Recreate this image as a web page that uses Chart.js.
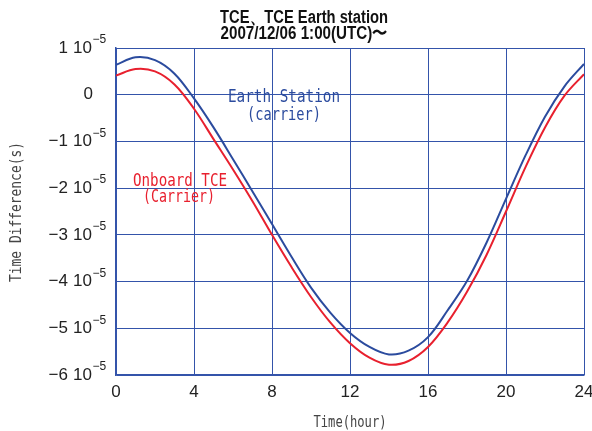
<!DOCTYPE html>
<html>
<head>
<meta charset="utf-8">
<script src="https://cdn.jsdelivr.net/npm/chart.js@4/dist/chart.umd.min.js"></script>
<style>
  html, body { margin: 0; padding: 0; background: #fff; }
  #wrap { width: 592px; height: 431px; }
</style>
</head>
<body>
<div id="wrap"><canvas id="myChart" width="592" height="431"></canvas></div>
<script>
'use strict';
// values are in units of 1e-5 s
let hours = [0, 1, 2, 3, 4, 5, 6, 7, 8, 9, 10, 11, 12, 13, 14, 15, 16, 17, 18, 19, 20, 21, 22, 23, 24];
let earthStation = [0.64, 0.80, 0.74, 0.45, -0.08, -0.70, -1.38, -2.07, -2.77, -3.47, -4.13, -4.67, -5.10, -5.40, -5.56, -5.48, -5.19, -4.62, -3.99, -3.17, -2.23, -1.30, -0.47, 0.18, 0.66];
let onboardTCE = [0.41, 0.55, 0.50, 0.22, -0.30, -0.95, -1.60, -2.28, -3.00, -3.69, -4.33, -4.88, -5.32, -5.63, -5.78, -5.70, -5.40, -4.88, -4.22, -3.43, -2.50, -1.55, -0.70, -0.02, 0.44];
let xTicks = [0, 4, 8, 12, 16, 20, 24];
let yTicks = [1, 0, -1, -2, -3, -4, -5, -6];
let exponent = '\u22125';

let gridColor = '#3454aa';
let blueColor = '#2b4b9e';
let redColor = '#e8202e';
let narrow = '"Liberation Sans Narrow", "Liberation Sans", sans-serif';
let mono = '"DejaVu Sans Mono", "Liberation Mono", monospace';

function toPoints(vals){
  let pts = [];
  for(let i = 0; i < hours.length; i++){
    pts.push({x: hours[i], y: vals[i]});
  }
  return pts;
}

// draw text squeezed/stretched to a given width
function drawFit(ctx, text, cx, cy, width, font, color){
  ctx.save();
  ctx.font = font;
  ctx.fillStyle = color;
  ctx.textAlign = 'center';
  ctx.textBaseline = 'middle';
  let w = ctx.measureText(text).width;
  ctx.translate(cx, cy);
  ctx.scale(width / w, 1);
  ctx.fillText(text, 0, 0);
  ctx.restore();
}

let textPlugin = {
  id: 'textPlugin',
  afterDraw(chart){
    let ctx = chart.ctx;
    let yScale = chart.scales.y;

    drawFit(ctx, 'TCE\u3001TCE Earth station', 304, 18, 168, 'bold 18px ' + narrow, '#111');
    drawFit(ctx, '2007/12/06 1:00(UTC)\u301c', 304, 34, 167, 'bold 18px ' + narrow, '#111');

    // y tick labels with superscript exponent
    ctx.save();
    ctx.fillStyle = '#222';
    ctx.textBaseline = 'middle';
    for(let i = 0; i < yTicks.length; i++){
      let v = yTicks[i];
      let y = yScale.getPixelForValue(v);
      ctx.font = '17px ' + narrow;
      ctx.textAlign = 'right';
      if(v === 0){
        ctx.fillText('0', 93, y);
        continue;
      }
      let mant = v < 0 ? '\u2212' + Math.abs(v) : String(v);
      ctx.fillText(mant, 68, y);
      ctx.fillText('10', 92, y);
      ctx.font = '12px ' + narrow;
      ctx.textAlign = 'left';
      ctx.fillText(exponent, 92.5, y - 8);
    }
    ctx.restore();

    drawFit(ctx, 'Earth Station', 284, 97, 112, '18px ' + mono, blueColor);
    drawFit(ctx, '(carrier)', 284, 115, 74, '18px ' + mono, blueColor);
    drawFit(ctx, 'Onboard TCE', 180, 181, 94, '18px ' + mono, redColor);
    drawFit(ctx, '(Carrier)', 179, 197, 72, '18px ' + mono, redColor);

    drawFit(ctx, 'Time(hour)', 350, 423, 73, '15px ' + mono, '#444');
    ctx.save();
    ctx.translate(17, 212);
    ctx.rotate(-Math.PI / 2);
    drawFit(ctx, 'Time Difference(s)', 0, 0, 140, '15px ' + mono, '#444');
    ctx.restore();
  }
};

let ctx = document.getElementById('myChart').getContext('2d');
let myChart = new Chart(ctx, {
  type: 'line',
  data: {
    datasets: [{
      label: 'Earth Station (carrier)',
      data: toPoints(earthStation),
      borderColor: blueColor,
      borderWidth: 2,
      pointRadius: 0,
      tension: 0.35,
      fill: false
    },
    {
      label: 'Onboard TCE (Carrier)',
      data: toPoints(onboardTCE),
      borderColor: redColor,
      borderWidth: 2,
      pointRadius: 0,
      tension: 0.35,
      fill: false
    }]
  },
  options: {
    responsive: false,
    animation: false,
    layout: { padding: { top: 48, right: 8, left: 0, bottom: 0 } },
    plugins: {
      legend: { display: false },
      title: { display: false },
      tooltip: { enabled: false }
    },
    scales: {
      x: {
        type: 'linear',
        min: 0,
        max: 24,
        afterBuildTicks: function(scale){
          scale.ticks = xTicks.map(function(v){ return {value: v}; });
        },
        afterFit: function(scale){
          scale.height = 56;
          scale.paddingLeft = 0;
          scale.paddingRight = 0;
        },
        grid: { color: gridColor, lineWidth: 1, drawTicks: false },
        border: { color: gridColor, width: 1.5 },
        ticks: {
          padding: 7,
          color: '#222',
          font: { family: narrow, size: 17 },
          maxRotation: 0
        }
      },
      y: {
        type: 'linear',
        min: -6,
        max: 1,
        afterBuildTicks: function(scale){
          scale.ticks = yTicks.map(function(v){ return {value: v}; });
        },
        afterFit: function(scale){ scale.width = 116; },
        grid: { color: gridColor, lineWidth: 1, drawTicks: false },
        border: { color: gridColor, width: 1.5 },
        ticks: { display: false }
      }
    }
  },
  plugins: [textPlugin]
});
</script>
</body>
</html>
